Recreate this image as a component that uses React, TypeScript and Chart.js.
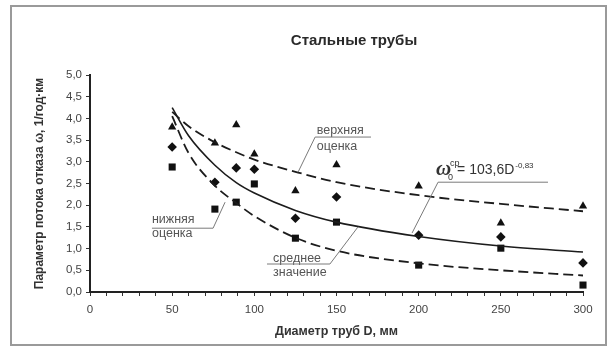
import React, { useEffect, useRef } from 'react';
import { Chart, registerables } from 'chart.js';

Chart.register(...registerables);

// ---- data ----
const diameters = [50, 76, 89, 100, 125, 150, 200, 250, 300];
const upperPoints = [3.8, 3.43, 3.85, 3.18, 2.33, 2.93, 2.44, 1.59, 1.98];
const meanPoints = [3.34, 2.53, 2.86, 2.83, 1.7, 2.19, 1.31, 1.27, 0.67];
const lowerPoints = [2.88, 1.91, 2.07, 2.49, 1.24, 1.61, 0.62, 1.01, 0.16];

const curveD = [50, 60, 76, 89, 100, 125, 150, 200, 250, 300];
const upperCurve = [4.15, 3.82, 3.45, 3.22, 3.05, 2.77, 2.53, 2.23, 2.03, 1.86];
const meanCurve = [4.25, 3.6, 2.92, 2.52, 2.28, 1.88, 1.61, 1.28, 1.06, 0.92];
const lowerCurve = [4.05, 3.2, 2.45, 2.05, 1.75, 1.25, 0.95, 0.66, 0.5, 0.38];

const chartTitle = 'Стальные трубы';
const xTitle = 'Диаметр труб D, мм';
const yTitle = 'Параметр потока отказа ω, 1/год·км';

// annotation labels (anchored in data units)
const labels = [
  { l1: 'верхняя', l2: 'оценка', x: 138, y1: 3.71, y2: 3.36, ulY: 3.57, ulX1: 137, ulX2: 171, from: 'left', toX: 126.6, toY: 2.76 },
  { l1: 'нижняя', l2: 'оценка', x: 37.7, y1: 1.68, y2: 1.34, ulY: 1.47, ulX1: 37.7, ulX2: 74.9, from: 'right', toX: 82.2, toY: 2.07 },
  { l1: 'среднее', l2: 'значение', x: 111.4, y1: 0.76, y2: 0.44, ulY: 0.645, ulX1: 107.7, ulX2: 146, from: 'right', toX: 163.1, toY: 1.5 },
];
const formula = { x: 210.5, y: 2.81, ulY: 2.53, ulX1: 211.8, ulX2: 278.7, toX: 196, toY: 1.36 };

const FONT = "'Liberation Sans', Arial, sans-serif";

const toXY = (xs: number[], ys: number[]) => xs.map((x, i) => ({ x, y: ys[i] }));

const decorPlugin = {
  id: 'decor',
  beforeDraw(chart: any) {
    const { ctx, width, height } = chart;
    ctx.save();
    ctx.fillStyle = '#ffffff';
    ctx.fillRect(0, 0, width, height);
    ctx.strokeStyle = '#9a9a9a';
    ctx.lineWidth = 2;
    ctx.strokeRect(11, 6, 595, 339);
    ctx.restore();
  },
  afterDraw(chart: any) {
    const { ctx } = chart;
    const xs = chart.scales.x;
    const ys = chart.scales.y;
    const px = (v: number) => xs.getPixelForValue(v);
    const py = (v: number) => ys.getPixelForValue(v);
    ctx.save();
    // title
    ctx.fillStyle = '#2a2a2a';
    ctx.font = `bold 15px ${FONT}`;
    ctx.textAlign = 'center';
    ctx.textBaseline = 'middle';
    ctx.fillText(chartTitle, 354, 41);

    // labels
    ctx.textAlign = 'left';
    ctx.font = `12.5px ${FONT}`;
    ctx.strokeStyle = '#7a7a7a';
    ctx.lineWidth = 1;
    for (const a of labels) {
      ctx.fillStyle = '#555';
      ctx.fillText(a.l1, px(a.x), py(a.y1));
      ctx.fillText(a.l2, px(a.x), py(a.y2));
      ctx.beginPath();
      ctx.moveTo(px(a.ulX1), py(a.ulY));
      ctx.lineTo(px(a.ulX2), py(a.ulY));
      const sx = a.from === 'left' ? px(a.ulX1) : px(a.ulX2);
      ctx.moveTo(sx, py(a.ulY));
      ctx.lineTo(px(a.toX), py(a.toY));
      ctx.stroke();
    }

    // formula
    const fx = px(formula.x);
    const fy = py(formula.y);
    ctx.fillStyle = '#333';
    ctx.font = `italic bold 21px 'Liberation Serif', serif`;
    ctx.fillText('ω', fx, fy);
    const ww = ctx.measureText('ω').width;
    ctx.font = `9px ${FONT}`;
    ctx.fillText('0', fx + ww - 3, fy + 7);
    ctx.fillText('ср', fx + ww - 1, fy - 7);
    ctx.font = `14px ${FONT}`;
    const main = '= 103,6D';
    ctx.fillText(main, fx + ww + 6, fy);
    const mw = ctx.measureText(main).width;
    ctx.font = `8px ${FONT}`;
    ctx.fillText('-0,83', fx + ww + 7 + mw, fy - 4);
    ctx.beginPath();
    ctx.moveTo(px(formula.ulX1), py(formula.ulY));
    ctx.lineTo(px(formula.ulX2), py(formula.ulY));
    ctx.moveTo(px(formula.ulX1), py(formula.ulY));
    ctx.lineTo(px(formula.toX), py(formula.toY));
    ctx.stroke();
    ctx.restore();
  },
};

export default function App() {
  const ref = useRef<HTMLCanvasElement | null>(null);
  useEffect(() => {
    if (!ref.current) return;
    const lineColor = '#1c1c1c';
    const chart = new Chart(ref.current, {
      type: 'scatter',
      data: {
        datasets: [
          {
            label: 'upper curve', data: toXY(curveD, upperCurve), showLine: true,
            borderColor: lineColor, borderWidth: 1.8, borderDash: [10, 5], pointRadius: 0,
            cubicInterpolationMode: 'monotone', fill: false,
          },
          {
            label: 'mean curve', data: toXY(curveD, meanCurve), showLine: true,
            borderColor: lineColor, borderWidth: 1.6, pointRadius: 0,
            cubicInterpolationMode: 'monotone', fill: false,
          },
          {
            label: 'lower curve', data: toXY(curveD, lowerCurve), showLine: true,
            borderColor: lineColor, borderWidth: 1.8, borderDash: [10, 5], pointRadius: 0,
            cubicInterpolationMode: 'monotone', fill: false,
          },
          {
            label: 'upper', data: toXY(diameters, upperPoints), pointStyle: 'triangle', clip: false,
            pointRadius: 4.8, backgroundColor: '#111', borderColor: '#111', borderWidth: 0,
          },
          {
            label: 'mean', data: toXY(diameters, meanPoints), pointStyle: 'rectRot', clip: false,
            pointRadius: 4.8, backgroundColor: '#111', borderColor: '#111', borderWidth: 0,
          },
          {
            label: 'lower', data: toXY(diameters, lowerPoints), pointStyle: 'rect', clip: false,
            pointRadius: 5, backgroundColor: '#111', borderColor: '#111', borderWidth: 0,
          },
        ],
      },
      options: {
        responsive: false,
        animation: false,
        devicePixelRatio: 1,
        layout: { padding: { top: 75, right: 28, bottom: 0, left: 0 } },
        plugins: { legend: { display: false }, tooltip: { enabled: false }, title: { display: false } },
        scales: {
          x: {
            type: 'linear', min: 0, max: 300,
            afterFit: (s: any) => { s.height = 57; },
            border: { display: true, color: '#222', width: 2 },
            grid: { display: true, drawOnChartArea: false, drawTicks: true, tickLength: 4, color: '#333', lineWidth: 1 },
            ticks: {
              stepSize: 10, autoSkip: false, maxRotation: 0, padding: 7,
              color: '#444', font: { size: 11.5, family: FONT },
              callback: (v: any) => (Number(v) % 50 === 0 ? String(v) : ''),
            },
            title: {
              display: true, text: xTitle, color: '#333',
              font: { size: 12.5, weight: 'bold', family: FONT }, padding: { top: 0, bottom: 10 },
            },
          },
          y: {
            type: 'linear', min: 0, max: 5,
            afterFit: (s: any) => { s.width = 90; },
            border: { display: true, color: '#222', width: 2 },
            grid: { display: true, drawOnChartArea: false, drawTicks: true, tickLength: 4, color: '#333', lineWidth: 1 },
            ticks: {
              stepSize: 0.5, padding: 4, color: '#444', font: { size: 11.5, family: FONT },
              callback: (v: any) => Number(v).toFixed(1).replace('.', ','),
            },
            title: {
              display: true, text: yTitle, color: '#333',
              font: { size: 12, weight: 'bold', family: FONT }, padding: { top: 32, bottom: 0 },
            },
          },
        },
      } as any,
      plugins: [decorPlugin],
    });
    return () => chart.destroy();
  }, []);
  return (
    <canvas
      ref={ref}
      width={611}
      height={349}
      style={{ position: 'absolute', left: 0, top: 0, width: 611, height: 349 }}
    />
  );
}
